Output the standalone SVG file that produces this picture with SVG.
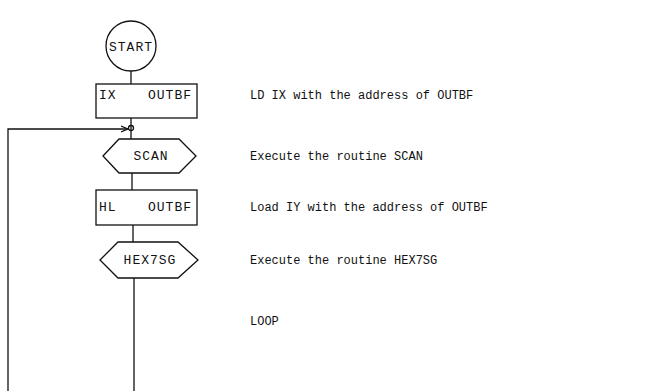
<svg xmlns="http://www.w3.org/2000/svg" width="665" height="391" viewBox="0 0 665 391">
<style>
.s{fill:none;stroke:#111;stroke-width:1.3}
.t{font-family:"Liberation Mono",monospace;font-size:12px;fill:#111}
.n{font-family:"Liberation Mono",monospace;font-size:13px;letter-spacing:1px;fill:#111}
</style>
<defs>
<marker id="ah" markerWidth="8" markerHeight="8" refX="7" refY="4" orient="auto" markerUnits="userSpaceOnUse">
<path d="M0,1 L7,4 L0,7" fill="none" stroke="#111" stroke-width="1.2"/>
</marker>
</defs>
<rect width="665" height="391" fill="#fff"/>
<g id="connectors">
<path class="s" d="M131,71 V84"/>
<path class="s" d="M131,118 V139"/>
<path class="s" d="M8,391 V129 H128" marker-end="url(#ah)"/>
<circle class="s" cx="131" cy="128" r="2.5"/>
<path class="s" d="M132,173 V190"/>
<path class="s" d="M133,225 V242"/>
<path class="s" d="M134,278 V391"/>
</g>
<g id="start">
<circle class="s" cx="131" cy="46" r="25"/>
<text class="n" x="131" y="51" text-anchor="middle">START</text>
</g>
<g id="ld-ix">
<rect class="s" x="96" y="84" width="101" height="34"/>
<text class="n" x="99" y="99">IX</text>
<text class="n" x="192" y="99" text-anchor="end">OUTBF</text>
</g>
<g id="scan">
<path class="s" d="M103,156 L119,139 H179 L196,156 L179,173 H119 Z"/>
<text class="n" x="151" y="160" text-anchor="middle">SCAN</text>
</g>
<g id="ld-hl">
<rect class="s" x="96" y="190" width="101" height="35"/>
<text class="n" x="99" y="211">HL</text>
<text class="n" x="192" y="211" text-anchor="end">OUTBF</text>
</g>
<g id="hex7sg">
<path class="s" d="M100,260 L118,242 H178 L198,260 L178,278 H118 Z"/>
<text class="n" x="150" y="264" text-anchor="middle">HEX7SG</text>
</g>
<g id="notes">
<text class="t" x="250" y="99">LD IX with the address of OUTBF</text>
<text class="t" x="250" y="160">Execute the routine SCAN</text>
<text class="t" x="250" y="211">Load IY with the address of OUTBF</text>
<text class="t" x="250" y="264">Execute the routine HEX7SG</text>
<text class="t" x="250" y="325">LOOP</text>
</g>
</svg>
